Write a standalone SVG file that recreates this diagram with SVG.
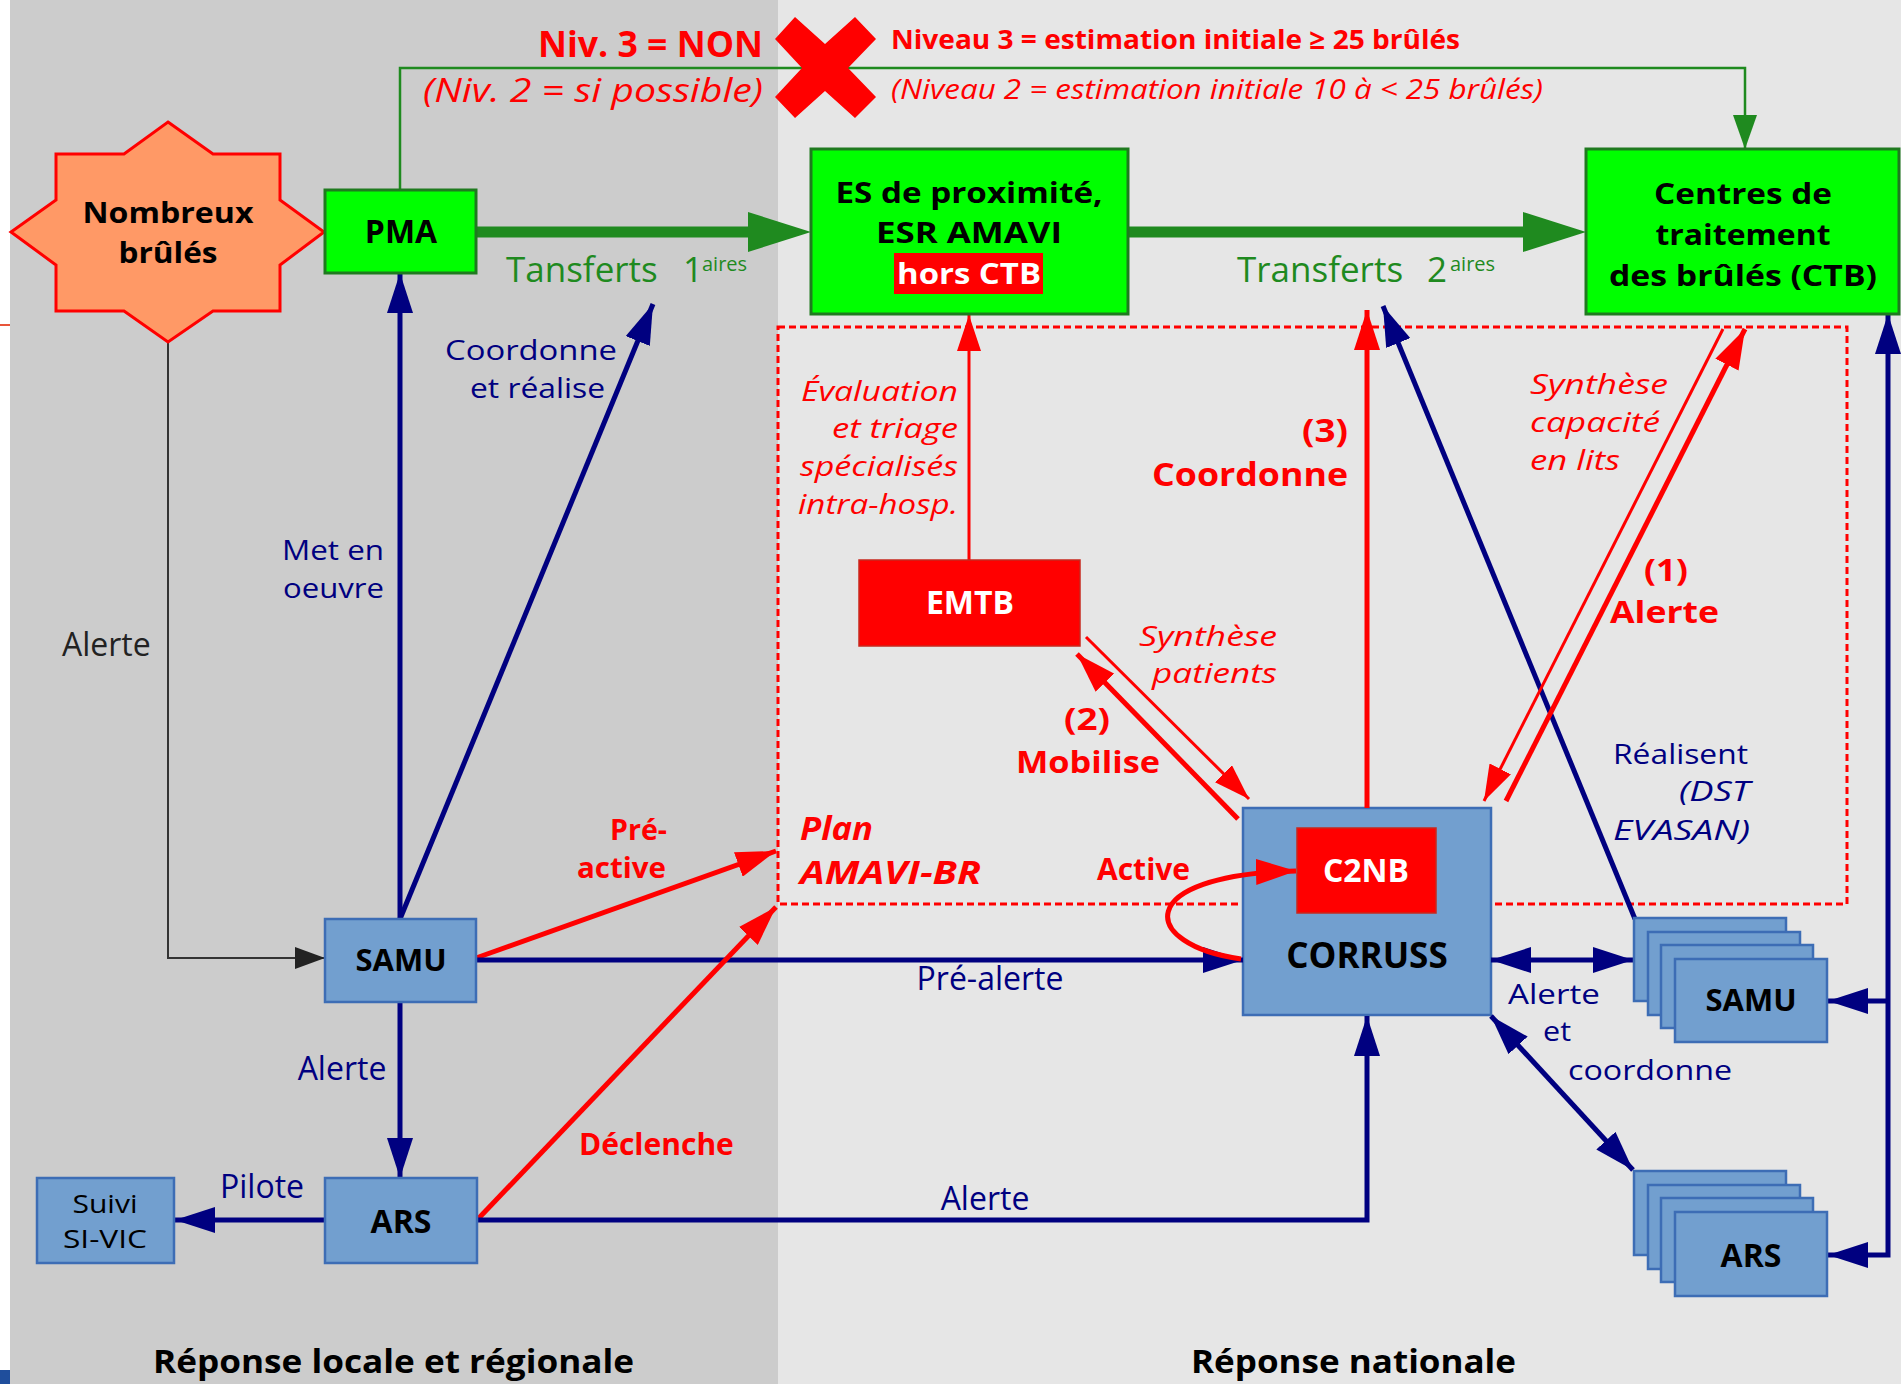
<svg xmlns="http://www.w3.org/2000/svg" width="1901" height="1384" viewBox="0 0 1901 1384">
<style>
text{font-family:"Open Sans","DejaVu Sans",sans-serif}
.n{fill:#000080;font-size:28px}
.r{fill:#ff0000}
.k{fill:#000}
.b{font-weight:bold}
.i{font-style:italic}
.m{text-anchor:middle}
.e{text-anchor:end}
.blue{fill:#729fcf;stroke:#3d6db5;stroke-width:2.5}
.grn{fill:#00ff00;stroke:#1f7a1f;stroke-width:3}
.rbox{fill:#ff0000;stroke:#c8281e;stroke-width:1.5}
.ln{fill:none;stroke:#000080;stroke-width:5}
.lr{fill:none;stroke:#ff0000;stroke-width:5}
.lrt{fill:none;stroke:#ff0000;stroke-width:3}
</style>
<defs>
<marker id="aN" markerUnits="userSpaceOnUse" markerWidth="40" markerHeight="26" refX="40" refY="13" orient="auto-start-reverse"><path d="M0,0L40,13L0,26z" fill="#000080"/></marker>
<marker id="aR" markerUnits="userSpaceOnUse" markerWidth="40" markerHeight="26" refX="40" refY="13" orient="auto-start-reverse"><path d="M0,0L40,13L0,26z" fill="#ff0000"/></marker>
<marker id="aRt" markerUnits="userSpaceOnUse" markerWidth="36" markerHeight="24" refX="36" refY="12" orient="auto"><path d="M0,0L36,12L0,24z" fill="#ff0000"/></marker>
<marker id="aG" markerUnits="userSpaceOnUse" markerWidth="34" markerHeight="24" refX="34" refY="12" orient="auto"><path d="M0,0L34,12L0,24z" fill="#1f8a1f"/></marker>
<marker id="aK" markerUnits="userSpaceOnUse" markerWidth="30" markerHeight="22" refX="30" refY="11" orient="auto"><path d="M0,0L30,11L0,22z" fill="#222"/></marker>
</defs>

<g id="background">
<rect x="0" y="0" width="1901" height="1384" fill="#ffffff"/>
<rect x="10" y="0" width="768" height="1384" fill="#cccccc"/>
<rect x="778" y="0" width="1123" height="1384" fill="#e6e6e6"/>
<line x1="0" y1="325" x2="10" y2="325" stroke="#e8553a" stroke-width="2"/>
<rect x="0" y="1370" width="10" height="14" fill="#1f4e9c"/>
</g>

<g id="plan-amavi">
<rect x="778" y="327" width="1069" height="577" fill="none" stroke="#ff0000" stroke-width="3" stroke-dasharray="7 4"/>
<text class="r b i" font-size="32" x="800" y="840" textLength="73" lengthAdjust="spacingAndGlyphs">Plan</text>
<text class="r b i" font-size="32" x="800" y="884" textLength="181" lengthAdjust="spacingAndGlyphs">AMAVI-BR</text>
</g>

<g id="node-corruss">
<rect class="blue" x="1243" y="808" width="248" height="207"/>
<text class="k b m" font-size="35" x="1367" y="968">CORRUSS</text>
</g>

<g id="connectors">
<path d="M168,342V958H325" fill="none" stroke="#333" stroke-width="2" marker-end="url(#aK)"/>
<path class="ln" d="M400,919V273" marker-end="url(#aN)"/>
<path class="ln" d="M400,919L653,304" marker-end="url(#aN)"/>
<path class="lr" d="M476,958L776,851" marker-end="url(#aR)"/>
<path class="ln" d="M476,960H1243" marker-end="url(#aN)"/>
<path class="ln" d="M400,1002V1178" marker-end="url(#aN)"/>
<path class="ln" d="M325,1220H175" marker-end="url(#aN)"/>
<path class="lr" d="M477,1220L776,907" stroke-width="4.5" marker-end="url(#aR)"/>
<path class="ln" d="M477,1220H1367V1016" marker-end="url(#aN)"/>
<path d="M400,190V68H1745V149" fill="none" stroke="#1f8a1f" stroke-width="2.5" marker-end="url(#aG)"/>
<path d="M476,232H752" stroke="#1f8a1f" stroke-width="11" fill="none"/>
<polygon points="748,212 811,232 748,252" fill="#1f8a1f"/>
<path d="M1128,232H1527" stroke="#1f8a1f" stroke-width="11" fill="none"/>
<polygon points="1523,212 1586,232 1523,252" fill="#1f8a1f"/>
<path class="lrt" d="M969,560V315" marker-end="url(#aRt)"/>
<path class="lr" d="M1367,808V310" stroke-width="4" marker-end="url(#aR)"/>
<path class="ln" d="M1635,919L1383,306" marker-end="url(#aN)"/>
<path class="lrt" d="M1723,329L1484,801" marker-end="url(#aRt)"/>
<path class="lr" d="M1506,801L1745,329" marker-end="url(#aR)"/>
<path class="lrt" d="M1086,637L1249,799" marker-end="url(#aRt)"/>
<path class="lr" d="M1238,819L1077,654" marker-end="url(#aR)"/>
<path class="lr" d="M1241,959C1140,945 1130,875 1296,871" stroke-width="4" marker-end="url(#aR)"/>
<path class="ln" d="M1491,960H1633" marker-start="url(#aN)" marker-end="url(#aN)"/>
<path class="ln" d="M1491,1016L1633,1170" marker-start="url(#aN)" marker-end="url(#aN)"/>
<path class="ln" d="M1888,314V1255H1828" stroke-width="4" marker-start="url(#aN)" marker-end="url(#aN)"/>
<path class="ln" d="M1888,1001H1828" stroke-width="4" marker-end="url(#aN)"/>
</g>

<g id="node-brules">
<polygon points="168,122 213,154 280,154 280,200 324,232 280,265 280,311 213,311 168,342 124,311 56,311 56,265 11,232 56,200 56,154 124,154" fill="#ff9966" stroke="#ff0000" stroke-width="3"/>
<text class="k b m" font-size="29" x="168" y="223" textLength="171" lengthAdjust="spacingAndGlyphs">Nombreux</text>
<text class="k b m" font-size="29" x="168" y="263" textLength="99" lengthAdjust="spacingAndGlyphs">brûlés</text>
</g>

<g id="node-pma">
<rect class="grn" x="325" y="190" width="151" height="83"/>
<text class="k b m" font-size="32" x="401" y="243">PMA</text>
</g>

<g id="node-es">
<rect class="grn" x="811" y="149" width="317" height="165"/>
<text class="k b m" font-size="29" x="969" y="203" textLength="267" lengthAdjust="spacingAndGlyphs">ES de proximité,</text>
<text class="k b m" font-size="29" x="969" y="243" textLength="186" lengthAdjust="spacingAndGlyphs">ESR AMAVI</text>
<rect x="894" y="253" width="149" height="41" fill="#ff0000"/>
<text class="b m" font-size="29" fill="#fff" x="969" y="284" textLength="144" lengthAdjust="spacingAndGlyphs">hors CTB</text>
</g>

<g id="node-ctb">
<rect class="grn" x="1586" y="149" width="313" height="165"/>
<text class="k b m" font-size="29" x="1743" y="204" textLength="178" lengthAdjust="spacingAndGlyphs">Centres de</text>
<text class="k b m" font-size="29" x="1743" y="245" textLength="175" lengthAdjust="spacingAndGlyphs">traitement</text>
<text class="k b m" font-size="29" x="1743" y="286" textLength="268" lengthAdjust="spacingAndGlyphs">des brûlés (CTB)</text>
</g>

<g id="node-emtb">
<rect class="rbox" x="859" y="560" width="221" height="86"/>
<text class="b m" font-size="32" fill="#fff" x="970" y="614">EMTB</text>
</g>

<g id="node-c2nb">
<rect class="rbox" x="1297" y="828" width="139" height="85"/>
<text class="b m" font-size="32" fill="#fff" x="1366" y="882">C2NB</text>
</g>

<g id="node-samu">
<rect class="blue" x="325" y="919" width="151" height="83"/>
<text class="k b m" font-size="31" x="401" y="971">SAMU</text>
</g>

<g id="node-ars">
<rect class="blue" x="325" y="1178" width="152" height="85"/>
<text class="k b m" font-size="32" x="401" y="1233">ARS</text>
</g>

<g id="node-sivic">
<rect class="blue" x="37" y="1178" width="137" height="85"/>
<text class="k m" font-size="25" x="105" y="1213" textLength="65" lengthAdjust="spacingAndGlyphs">Suivi</text>
<text class="k m" font-size="25" x="105" y="1248" textLength="84" lengthAdjust="spacingAndGlyphs">SI-VIC</text>
</g>

<g id="node-samu-stack">
<rect class="blue" x="1634" y="918" width="152" height="83"/>
<rect class="blue" x="1648" y="932" width="152" height="83"/>
<rect class="blue" x="1661" y="945" width="152" height="83"/>
<rect class="blue" x="1675" y="959" width="152" height="83"/>
<text class="k b m" font-size="31" x="1751" y="1011">SAMU</text>
</g>

<g id="node-ars-stack">
<rect class="blue" x="1634" y="1171" width="152" height="84"/>
<rect class="blue" x="1648" y="1185" width="152" height="84"/>
<rect class="blue" x="1661" y="1198" width="152" height="84"/>
<rect class="blue" x="1675" y="1212" width="152" height="84"/>
<text class="k b m" font-size="32" x="1751" y="1267">ARS</text>
</g>

<g id="cross">
<polygon points="775,39 795,17 825,44 855,17 876,39 848,68 876,97 855,118 825,91 795,118 775,97 802,68" fill="#ff0000"/>
</g>

<g id="labels">
<text class="r b e" font-size="35" x="763" y="57" textLength="225" lengthAdjust="spacingAndGlyphs">Niv. 3 = NON</text>
<text class="r i e" font-size="32" x="763" y="102" textLength="340" lengthAdjust="spacingAndGlyphs">(Niv. 2 = si possible)</text>
<text class="r b" font-size="27" x="891" y="49" textLength="569" lengthAdjust="spacingAndGlyphs">Niveau 3 = estimation initiale ≥ 25 brûlés</text>
<text class="r i" font-size="27" x="891" y="99" textLength="652" lengthAdjust="spacingAndGlyphs">(Niveau 2 = estimation initiale 10 à &lt; 25 brûlés)</text>

<text fill="#1f8a1f" font-size="35" x="506" y="282">Tansferts</text>
<text fill="#1f8a1f" font-size="35" x="683" y="282">1</text>
<text fill="#1f8a1f" font-size="20" x="702" y="271">aires</text>
<text fill="#1f8a1f" font-size="35" x="1237" y="282">Transferts</text>
<text fill="#1f8a1f" font-size="35" x="1427" y="282">2</text>
<text fill="#1f8a1f" font-size="20" x="1450" y="271">aires</text>

<text class="n" x="445" y="360" textLength="172" lengthAdjust="spacingAndGlyphs">Coordonne</text>
<text class="n" x="470" y="398" textLength="135" lengthAdjust="spacingAndGlyphs">et réalise</text>
<text class="n" x="282" y="560" textLength="102" lengthAdjust="spacingAndGlyphs">Met en</text>
<text class="n" x="283" y="598" textLength="101" lengthAdjust="spacingAndGlyphs">oeuvre</text>
<text font-size="32" fill="#222" x="62" y="656">Alerte</text>
<text class="n m" font-size="32" x="342" y="1080" style="font-size:32px">Alerte</text>
<text class="n m" x="262" y="1198" style="font-size:32px">Pilote</text>
<text class="n m" x="990" y="990" style="font-size:32px">Pré-alerte</text>
<text class="n m" x="985" y="1210" style="font-size:32px">Alerte</text>
<text class="n" x="1613" y="764" textLength="135" lengthAdjust="spacingAndGlyphs">Réalisent</text>
<text class="n i" x="1679" y="801" textLength="71" lengthAdjust="spacingAndGlyphs">(DST</text>
<text class="n i" x="1613" y="840" textLength="137" lengthAdjust="spacingAndGlyphs">EVASAN)</text>
<text class="n" x="1508" y="1004" textLength="92" lengthAdjust="spacingAndGlyphs">Alerte</text>
<text class="n" x="1543" y="1041" textLength="28" lengthAdjust="spacingAndGlyphs">et</text>
<text class="n" x="1568" y="1080" textLength="164" lengthAdjust="spacingAndGlyphs">coordonne</text>

<text class="r b" font-size="28" x="610" y="840" textLength="57" lengthAdjust="spacingAndGlyphs">Pré-</text>
<text class="r b" font-size="28" x="577" y="878" textLength="89" lengthAdjust="spacingAndGlyphs">active</text>
<text class="r b" font-size="30" x="579" y="1155">Déclenche</text>
<text class="r i" font-size="28" x="801" y="401" textLength="157" lengthAdjust="spacingAndGlyphs">Évaluation</text>
<text class="r i" font-size="28" x="832" y="438" textLength="126" lengthAdjust="spacingAndGlyphs">et triage</text>
<text class="r i" font-size="28" x="800" y="476" textLength="158" lengthAdjust="spacingAndGlyphs">spécialisés</text>
<text class="r i" font-size="28" x="798" y="514" textLength="160" lengthAdjust="spacingAndGlyphs">intra-hosp.</text>
<text class="r b" font-size="32" x="1302" y="442" textLength="46" lengthAdjust="spacingAndGlyphs">(3)</text>
<text class="r b" font-size="32" x="1152" y="486" textLength="196" lengthAdjust="spacingAndGlyphs">Coordonne</text>
<text class="r i" font-size="28" x="1530" y="394" textLength="138" lengthAdjust="spacingAndGlyphs">Synthèse</text>
<text class="r i" font-size="28" x="1530" y="432" textLength="130" lengthAdjust="spacingAndGlyphs">capacité</text>
<text class="r i" font-size="28" x="1530" y="470" textLength="90" lengthAdjust="spacingAndGlyphs">en lits</text>
<text class="r b" font-size="31" x="1644" y="581" textLength="44" lengthAdjust="spacingAndGlyphs">(1)</text>
<text class="r b" font-size="31" x="1610" y="623" textLength="109" lengthAdjust="spacingAndGlyphs">Alerte</text>
<text class="r i" font-size="28" x="1139" y="646" textLength="138" lengthAdjust="spacingAndGlyphs">Synthèse</text>
<text class="r i" font-size="28" x="1152" y="683" textLength="125" lengthAdjust="spacingAndGlyphs">patients</text>
<text class="r b" font-size="31" x="1064" y="730" textLength="46" lengthAdjust="spacingAndGlyphs">(2)</text>
<text class="r b" font-size="31" x="1016" y="773" textLength="144" lengthAdjust="spacingAndGlyphs">Mobilise</text>
<text class="r b" font-size="30" x="1097" y="880">Active</text>

<text class="k b" font-size="33" x="153" y="1373" textLength="481" lengthAdjust="spacingAndGlyphs">Réponse locale et régionale</text>
<text class="k b" font-size="33" x="1191" y="1373" textLength="325" lengthAdjust="spacingAndGlyphs">Réponse nationale</text>
</g>
</svg>
